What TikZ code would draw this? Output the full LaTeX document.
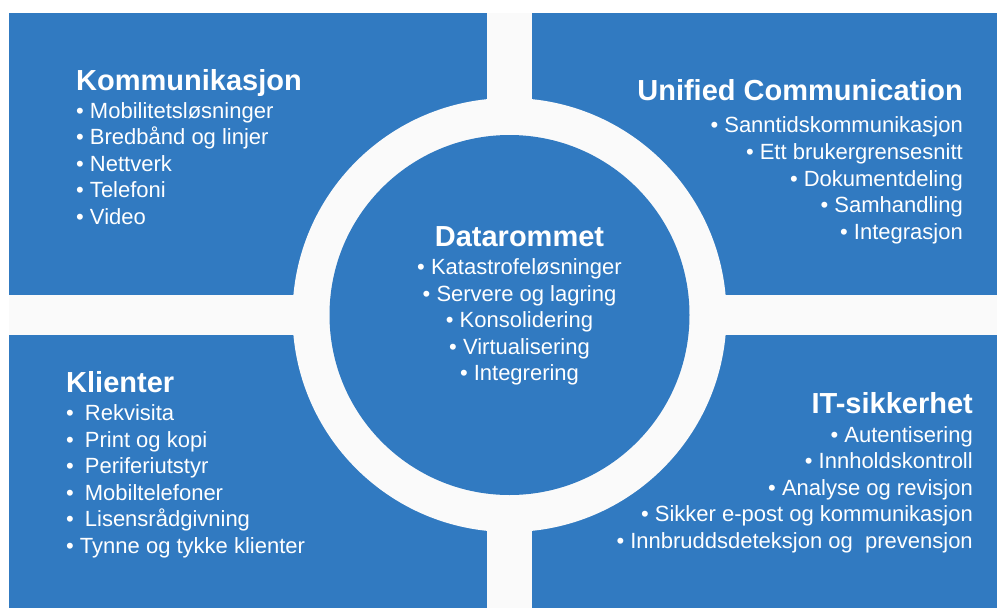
\documentclass[tikz,border=0pt]{standalone}
\usepackage{fontspec}
\setmainfont{Liberation Sans}
\definecolor{qblue}{HTML}{317AC1}
\definecolor{gapwhite}{HTML}{FAFAFA}
\tikzset{
  ttl/.style={inner sep=0pt, text=white, font=\fontsize{29}{32}\selectfont\bfseries},
  itm/.style={inner sep=0pt, text=white, font=\fontsize{22}{26}\selectfont},
}
\begin{document}
\begin{tikzpicture}[x=1pt,y=-1pt]
\useasboundingbox (0,0) rectangle (997,608);
\fill[white] (0,0) rectangle (997,608);
% quadrants
\fill[qblue] (9,13) rectangle (997,608);
% white cross
\fill[gapwhite] (487,13) rectangle (532,608);
\fill[gapwhite] (9,295) rectangle (997,335);
% ring and centre
\fill[gapwhite] (509.5,315) circle[radius=217];
\fill[qblue] (509.5,315) circle[radius=180];

% top left
\node[ttl, anchor=base west] (tlT) at (76,90) {Kommunikasjon};
\node[itm, anchor=base west] (tl1) at (76,118) {• Mobilitetsløsninger};
\node[itm, anchor=base west] (tl2) at (76,144.5) {• Bredbånd og linjer};
\node[itm, anchor=base west] (tl3) at (76,171) {• Nettverk};
\node[itm, anchor=base west] (tl4) at (76,197.5) {• Telefoni};
\node[itm, anchor=base west] (tl5) at (76,224) {• Video};

% top right
\node[ttl, anchor=base east] (trT) at (963,100) {Unified Communication};
\node[itm, anchor=base east] (tr1) at (963,132) {• Sanntidskommunikasjon};
\node[itm, anchor=base east] (tr2) at (963,159) {• Ett brukergrensesnitt};
\node[itm, anchor=base east] (tr3) at (963,186) {• Dokumentdeling};
\node[itm, anchor=base east] (tr4) at (963,212.5) {• Samhandling};
\node[itm, anchor=base east] (tr5) at (963,239) {• Integrasjon};

% centre
\node[ttl, anchor=base] (cT) at (519.5,246) {Datarommet};
\node[itm, anchor=base] (c1) at (519.5,274) {• Katastrofeløsninger};
\node[itm, anchor=base] (c2) at (519.5,301) {• Servere og lagring};
\node[itm, anchor=base] (c3) at (519.5,327.5) {• Konsolidering};
\node[itm, anchor=base] (c4) at (519.5,354) {• Virtualisering};
\node[itm, anchor=base] (c5) at (519.5,380.5) {• Integrering};

% bottom left
\node[ttl, anchor=base west] (blT) at (66,392) {Klienter};
\node[itm, anchor=base west] (bl1) at (66,420) {•\hspace{11pt}Rekvisita};
\node[itm, anchor=base west] (bl2) at (66,447) {•\hspace{11pt}Print og kopi};
\node[itm, anchor=base west] (bl3) at (66,473.5) {•\hspace{11pt}Periferiutstyr};
\node[itm, anchor=base west] (bl4) at (66,500) {•\hspace{11pt}Mobiltelefoner};
\node[itm, anchor=base west] (bl5) at (66,526.5) {•\hspace{11pt}Lisensrådgivning};
\node[itm, anchor=base west] (bl6) at (66,553) {• Tynne og tykke klienter};

% bottom right
\node[ttl, anchor=base east] (brT) at (973,413) {IT-sikkerhet};
\node[itm, anchor=base east] (br1) at (973,442) {• Autentisering};
\node[itm, anchor=base east] (br2) at (973,468.5) {• Innholdskontroll};
\node[itm, anchor=base east] (br3) at (973,495) {• Analyse og revisjon};
\node[itm, anchor=base east] (br4) at (973,521.5) {• Sikker e-post og kommunikasjon};
\node[itm, anchor=base east] (br5) at (973,548) {• Innbruddsdeteksjon og\ \ prevensjon};
\end{tikzpicture}
\end{document}
